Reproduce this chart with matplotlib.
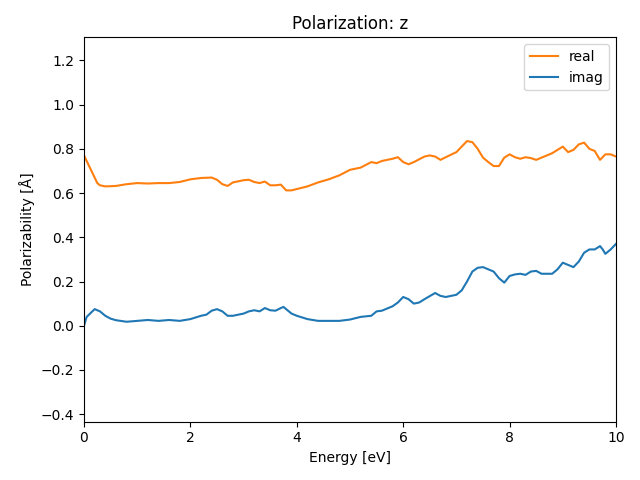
import numpy as np
import matplotlib.pyplot as plt

energy_real = [0.0, 0.1, 0.2, 0.25, 0.3, 0.4, 0.6, 0.8, 1.0, 1.2, 1.4, 1.6, 1.8, 2.0,
               2.2, 2.4, 2.5, 2.6, 2.7, 2.8, 3.0, 3.1, 3.2, 3.3, 3.4, 3.5, 3.6, 3.7,
               3.8, 3.9, 4.0, 4.2, 4.4, 4.6, 4.8, 5.0, 5.2, 5.4, 5.5, 5.6, 5.8, 5.9,
               6.0, 6.1, 6.2, 6.4, 6.5, 6.6, 6.7, 6.8, 7.0, 7.1, 7.2, 7.3, 7.4, 7.5,
               7.6, 7.7, 7.8, 7.9, 8.0, 8.1, 8.2, 8.3, 8.4, 8.5, 8.6, 8.8, 9.0, 9.1,
               9.2, 9.3, 9.4, 9.5, 9.6, 9.7, 9.8, 9.9, 10.0]
real = [0.77, 0.72, 0.67, 0.645, 0.635, 0.63, 0.632, 0.64, 0.645, 0.643, 0.645, 0.645,
        0.65, 0.662, 0.668, 0.67, 0.66, 0.64, 0.632, 0.648, 0.658, 0.66, 0.65, 0.645,
        0.652, 0.635, 0.635, 0.638, 0.612, 0.612, 0.618, 0.63, 0.648, 0.662, 0.68,
        0.705, 0.715, 0.74, 0.735, 0.745, 0.755, 0.762, 0.74, 0.73, 0.74, 0.765, 0.77,
        0.765, 0.75, 0.762, 0.785, 0.81, 0.835, 0.83, 0.80, 0.76, 0.74, 0.722, 0.722,
        0.76, 0.775, 0.762, 0.755, 0.762, 0.758, 0.75, 0.76, 0.78, 0.81, 0.785, 0.795,
        0.82, 0.828, 0.80, 0.79, 0.75, 0.775, 0.775, 0.765]

energy_imag = [0.0, 0.05, 0.2, 0.3, 0.4, 0.5, 0.6, 0.8, 1.0, 1.2, 1.4, 1.6, 1.8, 2.0,
               2.2, 2.3, 2.4, 2.5, 2.6, 2.7, 2.8, 3.0, 3.1, 3.2, 3.3, 3.4, 3.5, 3.6,
               3.7, 3.75, 3.9, 4.0, 4.2, 4.4, 4.6, 4.8, 5.0, 5.2, 5.4, 5.5, 5.6, 5.8,
               5.9, 6.0, 6.1, 6.2, 6.3, 6.4, 6.6, 6.7, 6.8, 7.0, 7.1, 7.2, 7.3, 7.4,
               7.5, 7.6, 7.7, 7.8, 7.9, 8.0, 8.1, 8.2, 8.3, 8.4, 8.5, 8.6, 8.8, 8.9,
               9.0, 9.1, 9.2, 9.3, 9.4, 9.5, 9.6, 9.7, 9.75, 9.8, 9.9, 10.0]
imag = [0.0, 0.04, 0.075, 0.065, 0.045, 0.032, 0.025, 0.018, 0.022, 0.026, 0.022, 0.026,
        0.022, 0.03, 0.045, 0.05, 0.068, 0.075, 0.065, 0.045, 0.045, 0.055, 0.065, 0.07,
        0.065, 0.08, 0.07, 0.068, 0.08, 0.085, 0.055, 0.045, 0.03, 0.022, 0.022, 0.022,
        0.028, 0.04, 0.045, 0.065, 0.068, 0.088, 0.105, 0.13, 0.12, 0.1, 0.105, 0.12,
        0.148, 0.135, 0.13, 0.14, 0.16, 0.2, 0.245, 0.262, 0.265, 0.255, 0.245, 0.215,
        0.195, 0.225, 0.232, 0.235, 0.23, 0.245, 0.248, 0.235, 0.235, 0.255, 0.285,
        0.275, 0.265, 0.29, 0.33, 0.345, 0.345, 0.36, 0.345, 0.325, 0.345, 0.37]

fig, ax = plt.subplots(figsize=(6.4, 4.8), dpi=100)
ax.plot(energy_real, real, color="tab:orange", label="real")
ax.plot(energy_imag, imag, color="tab:blue", label="imag")
ax.set_xlim(0, 10)
ax.set_ylim(-0.434, 1.304)
ax.set_yticks(np.arange(-0.4, 1.21, 0.2))
ax.set_xlabel("Energy [eV]")
ax.set_ylabel("Polarizability [Å]")
ax.set_title("Polarization: z")
ax.legend(loc="upper right")
fig.tight_layout()
fig.subplots_adjust(left=84 / 640, right=616 / 640)
fig.savefig("out.png")
